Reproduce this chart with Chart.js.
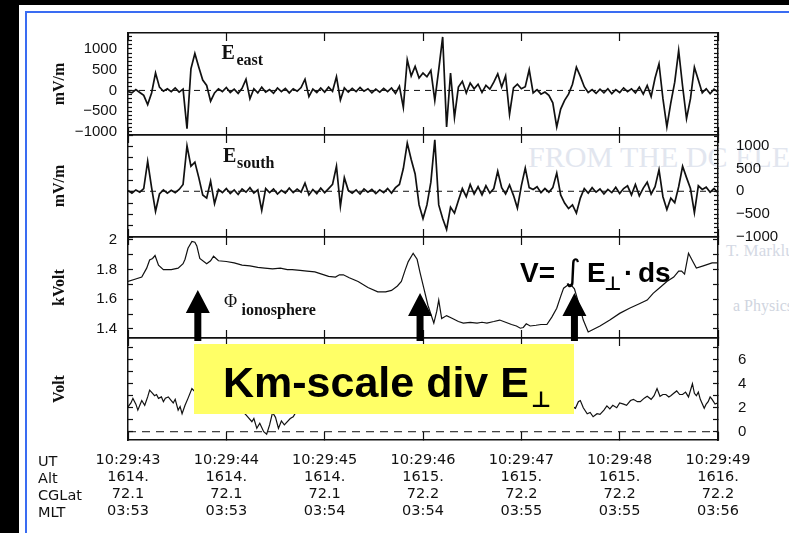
<!DOCTYPE html>
<html>
<head>
<meta charset="utf-8">
<script src="https://cdn.jsdelivr.net/npm/chart.js@4.4.1/dist/chart.umd.min.js"></script>
<style>
  html, body { margin: 0; padding: 0; background: #fff; }
  #wrap { position: relative; width: 789px; height: 533px; overflow: hidden; background: #fff; }
  #wrap canvas { position: absolute; left: 0; top: 0; }
  .blk { position: absolute; background: #000; }
  .blue { position: absolute; background: #3a6cf2; }
  .rows { position: absolute; left: 38px; top: 453px; font: 14.5px "DejaVu Sans", sans-serif; line-height: 17px; color: #111; }
  .ghost { position: absolute; white-space: nowrap; font-family: "Liberation Serif", serif; color: #e2e6ef; }
</style>
</head>
<body>
<div id="wrap">
  <div class="blk" style="left:0;top:0;width:789px;height:5px"></div>
  <div class="blk" style="left:0;top:0;width:19px;height:533px"></div>
  <div class="blue" style="left:25px;top:11px;width:764px;height:2px"></div>
  <div class="blue" style="left:25px;top:11px;width:2px;height:522px"></div>
  <div class="ghost" style="left:528px;top:140px;font-size:30px;">FROM THE DC ELECTRIC</div>
  <div class="ghost" style="left:726px;top:241px;font-size:17px;color:#d4d9e4;">T. Marklund</div>
  <div class="ghost" style="left:733px;top:297px;font-size:16px;color:#d0d5e0;">a Physics. AIP</div>
  <canvas id="c1" width="789" height="533"></canvas>
  <canvas id="c2" width="789" height="533"></canvas>
  <canvas id="c3" width="789" height="533"></canvas>
  <canvas id="c4" width="789" height="533"></canvas>
  <div class="rows" id="rows"></div>
</div>
<script>
// time axis labels (one per second)
const utLabels = ['10:29:43', '10:29:44', '10:29:45', '10:29:46', '10:29:47', '10:29:48', '10:29:49'];
const altLabels = ['1614.', '1614.', '1614.', '1615.', '1615.', '1615.', '1616.'];
const cglatLabels = ['72.1', '72.1', '72.1', '72.2', '72.2', '72.2', '72.2'];
const mltLabels = ['03:53', '03:53', '03:54', '03:54', '03:55', '03:55', '03:56'];
const rowNames = ['UT', 'Alt', 'CGLat', 'MLT'];

// E-field samples, mV/m, every 0.04 s from 10:29:43
const dt = 0.04;
const eEast = [
  -30, -60, 20, -50, -120, -340, -60, 420, 80, -20,
  40, -30, 60, -40, 30, -920, 520, 890, 560, 250,
  120, -260, -60, 40, -30, 70, -50, 30, -70, 50,
  270, -200, 40, -60, 80, -40, 20, -70, 60, -30,
  50, -60, 40, -20, 70, 270, -150, 30, -50, 60,
  -40, 80, -20, 330, -230, 60, -40, 50, -30, 70,
  -20, 40, -60, 30, -40, 50, -30, 60, -70, 100,
  -410, 740, 350, 580, 300, 420, 330, 480, -240, 500,
  1290, -880, 420, -650, 80, 220, -60, 180, 40, 150,
  -50, 120, 30, 200, 400, 80, 350, -580, 60, 150,
  40, 90, 500, -60, 20, -90, -40, -120, -300, -880,
  -450, -240, -90, 150, 560, 340, 90, -50, 20, -70,
  30, -60, 40, -80, 20, -50, 60, -30, 40, -60,
  80, -90, 120, -150, 300, 640, -200, -880, -300, 200,
  960, 100, -680, -200, 560, 250, -60, 40, -80, 30,
  -40
];
const eSouth = [
  20, -40, 30, -20, 60, 660, 80, -440, -60, 30,
  -40, 20, -30, 40, 150, 1000, 550, 640, 300, -80,
  -150, 220, -270, 40, -30, 60, -50, 30, -70, 50,
  -20, 80, -40, 30, -420, 60, -30, 50, -60, 20,
  -40, 70, -30, 50, -20, 180, -80, 40, -50, 70,
  -30, 60, 150, 550, -330, 300, 20, -40, 30, -60,
  50, -20, 40, -50, 30, -30, 60, -40, 80, 150,
  500, 1060, 700, 380, -300, -600, -300, 200, 1130, -300,
  -600, -840, -350, -480, -200, 60, -120, 150, -60, 100,
  -80, 120, -40, 60, 440, 80, -60, 140, -90, -370,
  120, 510, 80, 40, 100, -30, 60, -20, 80, 400,
  -80, -260, -380, -300, -480, -150, 60, -40, 80, -20,
  50, -60, 40, -30, 90, -50, 60, 120, -80, 150,
  -100, 70, 200, -60, 100, 470, -120, -400, -150, -250,
  100, 550, 300, 60, -470, 120, 40, 90, -20, 60,
  -30
];

// ionospheric potential, kV
const phiT = [0, 0.07, 0.14, 0.19, 0.22, 0.25, 0.275, 0.31, 0.36, 0.44, 0.51, 0.56, 0.58, 0.61, 0.65, 0.68, 0.70, 0.73, 0.80, 0.84,
  0.87, 0.92, 1.0, 1.08, 1.16, 1.24, 1.32, 1.39, 1.47, 1.55, 1.62, 1.67, 1.75, 1.82, 1.90, 1.97, 2.04, 2.11, 2.15, 2.19,
  2.25, 2.34, 2.44, 2.54, 2.62, 2.68, 2.74, 2.78, 2.82, 2.85, 2.90, 2.94, 2.97, 3.01, 3.05, 3.11, 3.14, 3.16, 3.19, 3.24,
  3.30, 3.36, 3.41, 3.48, 3.55, 3.60, 3.65, 3.72, 3.78, 3.84, 3.90, 3.95, 3.99, 4.02, 4.05, 4.09, 4.15, 4.20, 4.26, 4.31,
  4.36, 4.40, 4.43, 4.47, 4.50, 4.54, 4.58, 4.63, 4.68, 4.74, 4.80, 4.90, 5.00, 5.10, 5.20, 5.28, 5.34, 5.41, 5.48, 5.55,
  5.60, 5.63, 5.66, 5.70, 5.74, 5.78, 5.85, 5.94, 6.0];
const phiV = [1.72, 1.735, 1.75, 1.81, 1.865, 1.875, 1.895, 1.83, 1.80, 1.80, 1.81, 1.84, 1.87, 1.944, 1.99, 1.985, 1.96, 1.876, 1.84, 1.86,
  1.89, 1.86, 1.855, 1.845, 1.83, 1.825, 1.815, 1.81, 1.805, 1.81, 1.80, 1.80, 1.795, 1.79, 1.785, 1.77, 1.755, 1.75, 1.765, 1.765,
  1.745, 1.72, 1.68, 1.65, 1.65, 1.66, 1.69, 1.72, 1.80, 1.854, 1.91, 1.87, 1.78, 1.67, 1.56, 1.44, 1.52, 1.595, 1.47, 1.49,
  1.47, 1.45, 1.44, 1.445, 1.44, 1.445, 1.44, 1.45, 1.46, 1.445, 1.43, 1.42, 1.405, 1.41, 1.435, 1.42, 1.425, 1.43, 1.43, 1.48,
  1.54, 1.62, 1.675, 1.695, 1.70, 1.67, 1.58, 1.46, 1.38, 1.40, 1.42, 1.46, 1.505, 1.54, 1.57, 1.595, 1.64, 1.68, 1.72, 1.75,
  1.79, 1.79, 1.77, 1.91, 1.86, 1.81, 1.825, 1.845, 1.845];

// divergence trace, V
const voltT = [0, 0.03, 0.05, 0.08, 0.10, 0.12, 0.14, 0.17, 0.20, 0.22, 0.25, 0.27, 0.29, 0.31, 0.34, 0.36, 0.38, 0.41, 0.44, 0.46,
  0.48, 0.51, 0.53, 0.55, 0.58, 0.61, 0.65, 0.72, 0.80, 0.88, 0.96, 1.04, 1.10, 1.15, 1.20, 1.26, 1.28, 1.31, 1.34, 1.38,
  1.41, 1.44, 1.47, 1.50, 1.53, 1.56, 1.59, 1.65, 1.68, 1.72, 1.80, 1.90, 2.00, 2.10, 2.20, 2.30, 2.40, 2.50, 2.60, 2.70,
  2.80, 2.90, 3.00, 3.10, 3.20, 3.30, 3.40, 3.50, 3.60, 3.70, 3.80, 3.90, 4.00, 4.10, 4.20, 4.30, 4.40, 4.48, 4.55, 4.58,
  4.60, 4.63, 4.67, 4.70, 4.73, 4.77, 4.80, 4.84, 4.87, 4.90, 4.93, 4.97, 5.00, 5.04, 5.07, 5.11, 5.14, 5.18, 5.21, 5.25,
  5.28, 5.32, 5.35, 5.38, 5.41, 5.44, 5.47, 5.50, 5.52, 5.55, 5.58, 5.61, 5.64, 5.67, 5.70, 5.74, 5.76, 5.78, 5.80, 5.82,
  5.86, 5.88, 5.90, 5.92, 5.94, 5.97, 6.0];
const voltV = [2.08, 2.4, 2.78, 2.3, 1.8, 2.2, 2.6, 2.2, 2.9, 3.47, 3.2, 3.0, 3.1, 2.78, 2.9, 2.5, 2.8, 2.9, 2.6, 2.4,
  2.7, 1.8, 2.1, 1.5, 2.2, 2.78, 3.6, 3.0, 2.6, 3.2, 2.5, 2.8, 2.2, 1.8, 1.4, 0.83, 1.1, 0.28, 0.7, 0.0,
  -0.2, 0.57, 1.6, 1.2, 0.28, 0.9, 0.57, 1.1, 1.25, 1.8, 2.4, 2.1, 2.9, 2.5, 3.1, 2.7, 3.3, 2.9, 3.2, 2.6,
  3.0, 2.4, 2.8, 2.2, 2.6, 2.3, 2.9, 2.5, 2.8, 2.3, 2.6, 2.1, 2.5, 2.2, 2.7, 2.4, 2.0, 2.3, 1.95, 2.5,
  2.6, 2.0, 1.5, 1.6, 1.25, 1.5, 1.45, 1.8, 2.15, 1.9, 2.2, 2.0, 2.4, 2.3, 2.2, 2.6, 2.7, 2.5, 2.5, 2.8,
  2.95, 2.7, 3.0, 3.6, 2.95, 3.1, 3.1, 2.9, 3.0, 3.2, 3.4, 3.1, 3.1, 3.3, 2.9, 4.0, 3.2, 3.0, 3.3, 2.7,
  1.95, 2.3, 2.5, 2.9, 2.7, 2.3, 2.4];

const arrowTimes = [0.71, 2.97, 4.54];

const INK = '#111';
const W = 789, H = 533;
const panels = [
  {top: 33, bottom: 135},
  {top: 135, bottom: 237},
  {top: 237, bottom: 338},
  {top: 338, bottom: 440}
];

const sansTick = {family: '"Liberation Sans", Arial, sans-serif', size: 15};
const serifTitle = {family: '"Liberation Serif", "Times New Roman", serif', size: 16, weight: 'bold'};

function fmt(v) { return v < 0 ? '\u2212' + (-v) : String(v); }
const blank = () => '';

function yAxis(pos, min, max, step, tl, opts = {}) {
  return {
    type: 'linear', position: pos, min: min, max: max,
    afterFit: s => { s.width = pos === 'left' ? 128 : W - 718; },
    border: {color: INK, width: 1.5},
    grid: {drawOnChartArea: false, tickLength: -tl, tickColor: INK, tickWidth: 1.2},
    ticks: {
      stepSize: step, includeBounds: false, autoSkip: false, maxTicksLimit: 100, color: INK, font: sansTick,
      padding: opts.pad || 0, callback: opts.label || blank
    },
    title: opts.title
      ? {display: true, text: opts.title, color: INK, font: serifTitle, padding: {top: 50, bottom: 0}}
      : {display: false}
  };
}

function xAxis(pos, labelled) {
  return {
    type: 'linear', position: pos, min: 0, max: 6,
    afterFit: s => { s.height = labelled ? 93 : 0; },
    border: {color: INK, width: 1.5},
    grid: {drawOnChartArea: false, tickLength: -8, tickColor: INK, tickWidth: 1.2},
    ticks: {
      stepSize: 1, autoSkip: false, maxRotation: 0, color: INK, padding: 20,
      font: {family: '"DejaVu Sans", sans-serif', size: 14.5, lineHeight: '17px'},
      callback: labelled
        ? v => { const i = Math.round(v); return [utLabels[i], altLabels[i], cglatLabels[i], mltLabels[i]]; }
        : blank
    }
  };
}

function trace(xs, ys, width) {
  return {
    data: ys.map((v, i) => ({x: xs ? xs[i] : i * dt, y: v})),
    borderColor: INK, borderWidth: width, pointRadius: 0, tension: 0, yAxisID: 'y'
  };
}
function zeroLine(dash) {
  return {
    data: [{x: 0, y: 0}, {x: 6, y: 0}],
    borderColor: INK, borderWidth: 1, borderDash: dash, pointRadius: 0, yAxisID: 'y'
  };
}

function makeChart(id, k, datasets, yl, yr, plugins) {
  const p = panels[k];
  const last = k === panels.length - 1;
  return new Chart(document.getElementById(id), {
    type: 'line',
    data: {datasets: datasets},
    options: {
      responsive: false, animation: false, events: [],
      layout: {padding: {left: 0, right: 0, top: p.top, bottom: last ? H - p.bottom - 93 : H - p.bottom}},
      plugins: {legend: {display: false}, tooltip: {enabled: false}},
      scales: {x: xAxis('bottom', last), xt: xAxis('top', false), y: yl, yr: yr}
    },
    plugins: plugins || []
  });
}

// Panel 1: E east
makeChart('c1', 0, [trace(null, eEast, 1.7), zeroLine([6, 5])],
  yAxis('left', -1075, 1385, 100, 4, {pad: 15, title: 'mV/m', label: v => (v % 500 === 0 ? fmt(v) : '')}),
  yAxis('right', -1075, 1385, 100, 4));

// Panel 2: E south
makeChart('c2', 1, [trace(null, eSouth, 1.7), zeroLine([6, 5])],
  yAxis('left', -1005, 1237, 250, 5, {title: 'mV/m'}),
  yAxis('right', -1005, 1237, 100, 4, {pad: 22, label: v => (v % 500 === 0 ? fmt(v) : '')}));

// Panel 3: potential
makeChart('c3', 2, [trace(phiT, phiV, 1.2)],
  yAxis('left', 1.339, 2.02, 0.1, 5, {pad: 16, title: 'kVolt',
    label: v => (Math.abs(v * 5 - Math.round(v * 5)) < 1e-6 ? String(+v.toFixed(1)) : '')}),
  yAxis('right', 1.339, 2.02, 0.1, 5));

// annotations drawn over the last chart
const overlay = {
  id: 'overlay',
  afterDraw(chart) {
    const ctx = chart.ctx;
    const xs = chart.scales.x;
    ctx.save();
    ctx.fillStyle = '#000';
    // arrows
    arrowTimes.forEach((t, i) => {
      const cx = xs.getPixelForValue(t);
      const tip = i === 0 ? 290 : 293;
      ctx.beginPath();
      ctx.moveTo(cx, tip);
      ctx.lineTo(cx + 12, tip + 23);
      ctx.lineTo(cx + 3.5, tip + 23);
      ctx.lineTo(cx + 3.5, 341);
      ctx.lineTo(cx - 3.5, 341);
      ctx.lineTo(cx - 3.5, tip + 23);
      ctx.lineTo(cx - 12, tip + 23);
      ctx.closePath();
      ctx.fill();
    });
    // yellow label box
    ctx.fillStyle = '#ffff66';
    ctx.fillRect(194, 344, 380, 70);
    ctx.fillStyle = '#000';
    ctx.textBaseline = 'alphabetic';
    ctx.font = 'bold 43px "Liberation Sans", Arial, sans-serif';
    ctx.fillText('Km-scale div E', 223, 397);
    const kw = ctx.measureText('Km-scale div E').width;
    ctx.font = 'bold 22px "DejaVu Sans", sans-serif';
    ctx.fillText('\u22A5', 223 + kw + 2, 407);

    // V = integral E . ds
    ctx.font = 'bold 28px "Liberation Sans", Arial, sans-serif';
    ctx.fillText('V=', 520, 282);
    ctx.font = '30px "DejaVu Sans", sans-serif';
    ctx.fillText('\u222B', 565, 281);
    ctx.font = 'bold 28px "Liberation Sans", Arial, sans-serif';
    ctx.fillText('E', 587, 282);
    ctx.fillText('\u00B7', 624, 282);
    ctx.fillText('ds', 638, 282);
    ctx.font = 'bold 19px "DejaVu Sans", sans-serif';
    ctx.fillText('\u22A5', 604, 290);

    // panel labels
    ctx.fillStyle = INK;
    ctx.font = 'bold 20px "Liberation Serif", "Times New Roman", serif';
    ctx.fillText('E', 221.5, 58.5);
    ctx.fillText('E', 223, 161.5);
    ctx.font = 'bold 16px "Liberation Serif", "Times New Roman", serif';
    ctx.fillText('east', 236.5, 65);
    ctx.fillText('south', 237, 168);
    ctx.fillText('ionosphere', 241.5, 315);
    ctx.font = '18px "Liberation Serif", "Times New Roman", serif';
    ctx.fillText('\u03A6', 224, 307);
    ctx.restore();
  }
};

// Panel 4: div E
makeChart('c4', 3, [trace(voltT, voltV, 1.2), zeroLine([8, 6])],
  yAxis('left', -0.69, 7.81, 1, 5, {title: 'Volt'}),
  yAxis('right', -0.69, 7.81, 1, 5, {pad: 25, label: v => (v >= 0 && v % 2 === 0 ? String(v) : '')}),
  [overlay]);

document.getElementById('rows').innerHTML = rowNames.join('<br>');
</script>
</body>
</html>
